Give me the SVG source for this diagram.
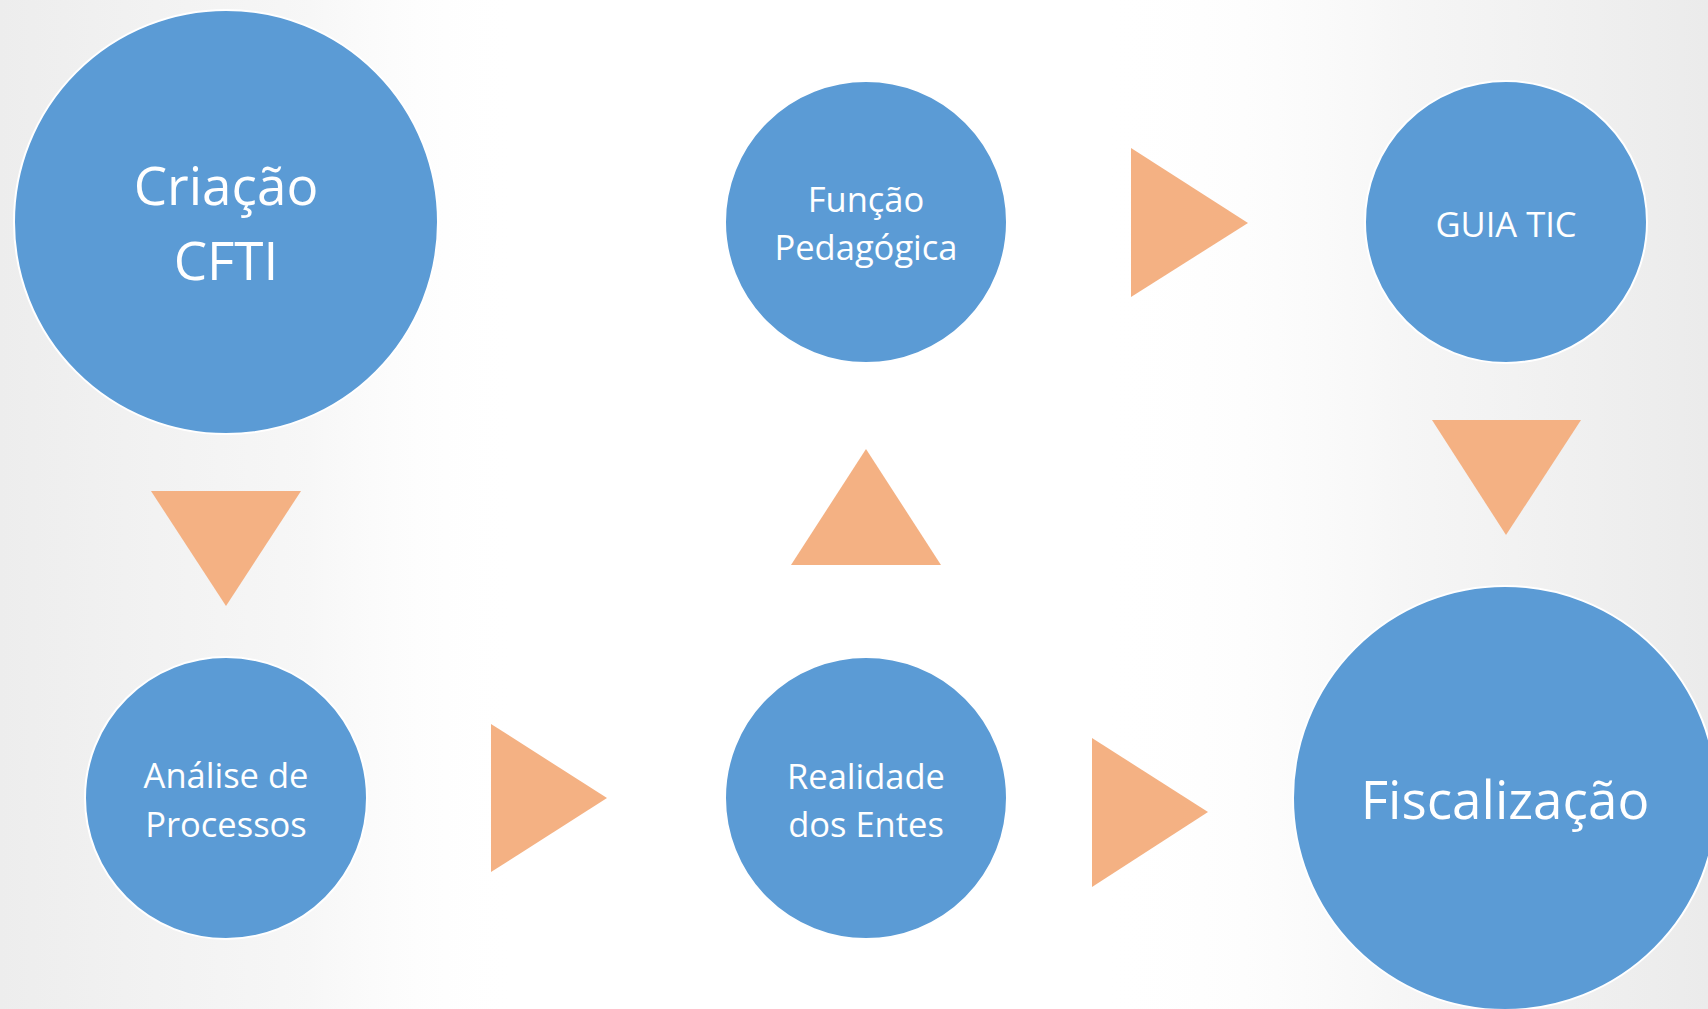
<svg xmlns="http://www.w3.org/2000/svg" width="1708" height="1009" viewBox="0 0 1708 1009">
  <defs>
    <linearGradient id="bgL" x1="0" y1="0" x2="1" y2="0">
      <stop offset="0" stop-color="#ededed"/>
      <stop offset="0.6" stop-color="#f7f7f7"/>
      <stop offset="1" stop-color="#ffffff" stop-opacity="0"/>
    </linearGradient>
    <linearGradient id="bgR" x1="0" y1="0" x2="1" y2="0">
      <stop offset="0" stop-color="#ffffff" stop-opacity="0"/>
      <stop offset="0.5" stop-color="#f6f6f6"/>
      <stop offset="1" stop-color="#ebebeb"/>
    </linearGradient>
    <style>
      .node { fill: #5B9BD5; stroke: #ffffff; stroke-width: 2; }
      .arrow { fill: #F4B183; }
      .lbl { fill: #ffffff; font-family: "Open Sans", "Noto Sans", sans-serif; text-anchor: middle; }
      .big { font-size: 53px; }
      .mid { font-size: 34.5px; }
    </style>
  </defs>
  <rect width="1708" height="1009" fill="#ffffff"/>
  <rect x="0" y="0" width="520" height="1009" fill="url(#bgL)"/>
  <rect x="1100" y="0" width="608" height="1009" fill="url(#bgR)"/>

  <g id="connectors">
    <polygon class="arrow" points="151,491 301,491 226,606"/>
    <polygon class="arrow" points="491,724 491,872 607,798"/>
    <polygon class="arrow" points="791,565 941,565 866,449"/>
    <polygon class="arrow" points="1131,148 1131,297 1248,223"/>
    <polygon class="arrow" points="1432,420 1581,420 1506,535"/>
    <polygon class="arrow" points="1092,738 1092,887 1208,812"/>
  </g>

  <g id="criacao">
    <circle class="node" cx="226" cy="222" r="212"/>
    <text class="lbl big" x="226" y="205">Criação</text>
    <text class="lbl big" x="226" y="280">CFTI</text>
  </g>
  <g id="funcao">
    <circle class="node" cx="866" cy="222" r="141"/>
    <text class="lbl mid" x="866" y="212">Função</text>
    <text class="lbl mid" x="866" y="260">Pedagógica</text>
  </g>
  <g id="guia">
    <circle class="node" cx="1506" cy="222" r="141"/>
    <text class="lbl mid" x="1506" y="237">GUIA TIC</text>
  </g>
  <g id="analise">
    <circle class="node" cx="226" cy="798" r="141"/>
    <text class="lbl mid" x="226" y="788">Análise de</text>
    <text class="lbl mid" x="226" y="837">Processos</text>
  </g>
  <g id="realidade">
    <circle class="node" cx="866" cy="798" r="141"/>
    <text class="lbl mid" x="866" y="789">Realidade</text>
    <text class="lbl mid" x="866" y="837">dos Entes</text>
  </g>
  <g id="fiscalizacao">
    <circle class="node" cx="1505" cy="798" r="212"/>
    <text class="lbl big" x="1505" y="819">Fiscalização</text>
  </g>
</svg>
